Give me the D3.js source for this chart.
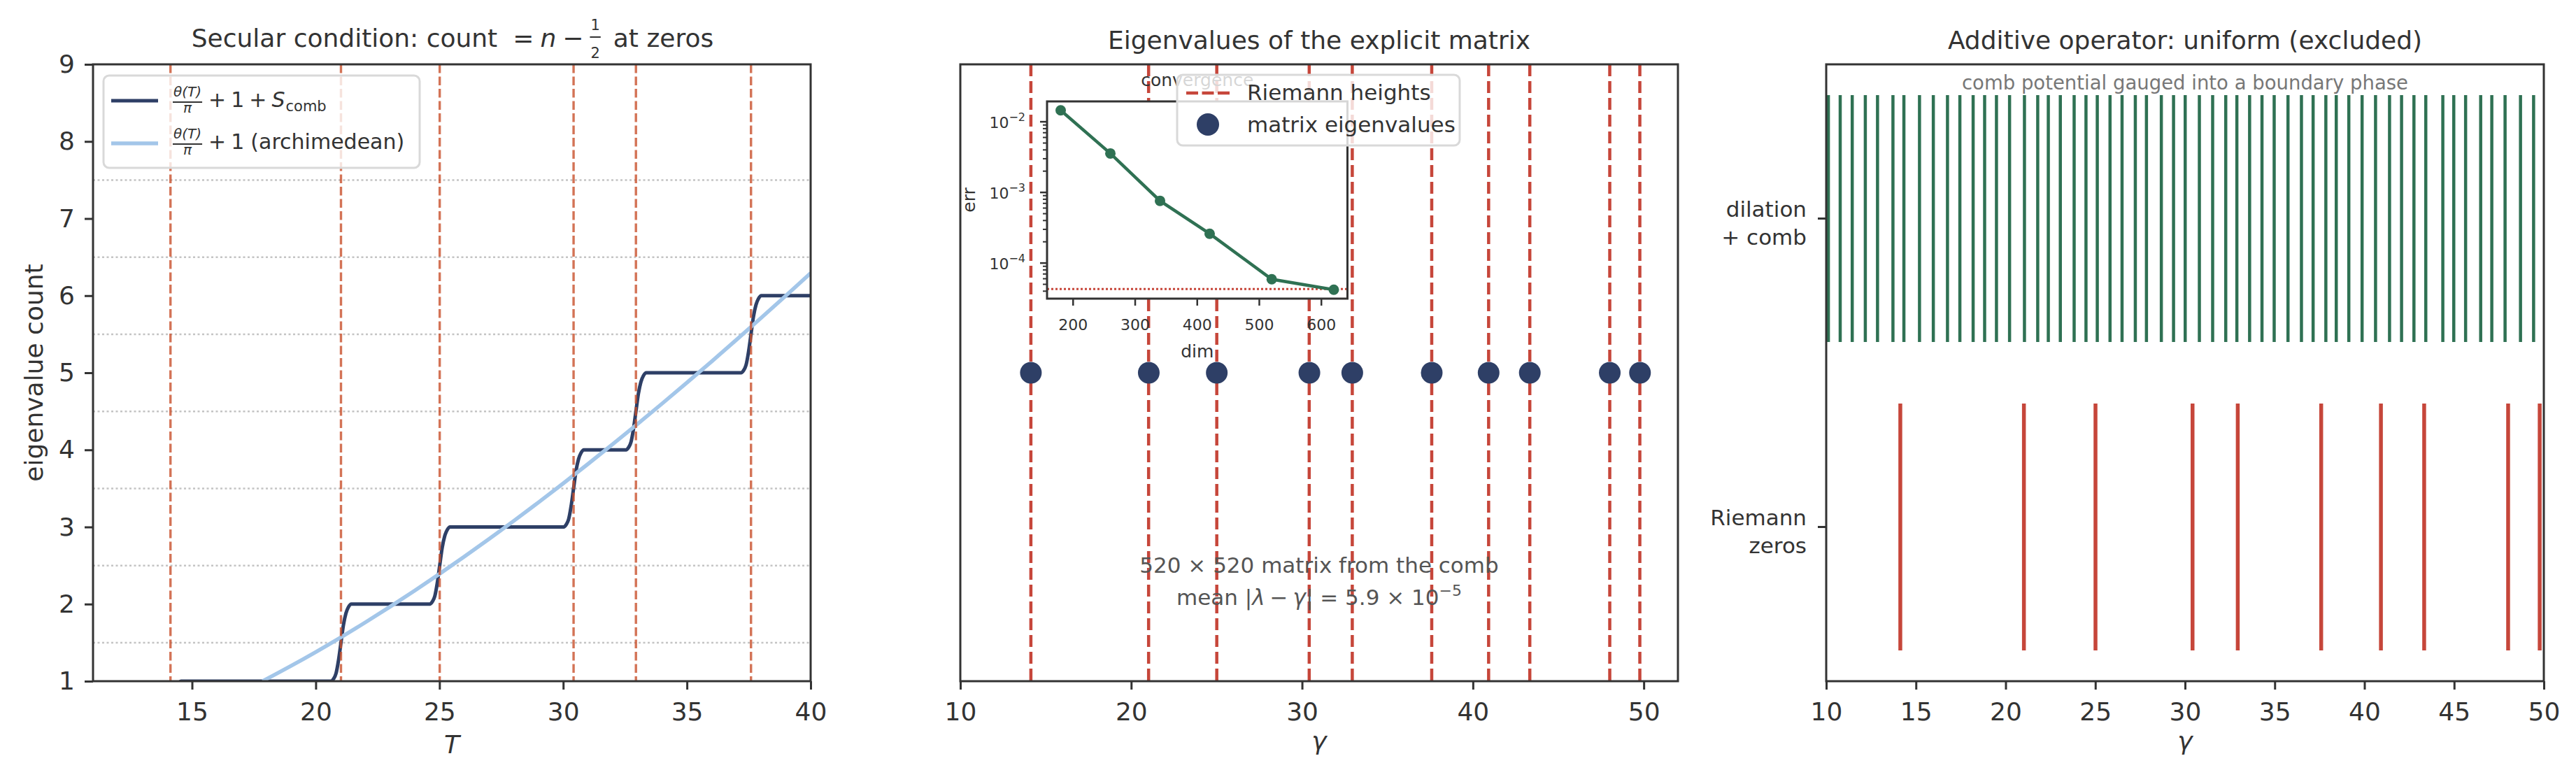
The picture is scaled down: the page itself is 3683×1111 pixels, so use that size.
<!DOCTYPE html>
<html><head><meta charset="utf-8">
<script src="https://cdn.jsdelivr.net/npm/d3@7"></script>
<style>body{margin:0;background:#fff} text{font-family:"DejaVu Sans",sans-serif}</style>
</head><body><svg id="c" width="3683" height="1111"></svg>
<script>
// ---------------- data ----------------
const riemannZeros = [14.13, 21.02, 25.01, 30.42, 32.94, 37.59, 40.92, 43.33, 48.01, 49.77];
const matrixEig = [14.13, 21.03, 25.01, 30.43, 32.94, 37.59, 40.92, 43.33, 48.01, 49.78];
const stairT = [13.73, 13.83, 13.93, 14.03, 14.13, 14.23, 14.33, 14.43, 14.55,
  20.62, 20.72, 20.82, 20.92, 21.02, 21.12, 21.22, 21.32, 21.44,
  24.61, 24.71, 24.81, 24.91, 25.01, 25.11, 25.21, 25.31, 25.43,
  30.02, 30.12, 30.22, 30.32, 30.42, 30.52, 30.62, 30.72, 30.84,
  32.54, 32.64, 32.74, 32.84, 32.94, 33.04, 33.14, 33.24, 33.36,
  37.19, 37.29, 37.39, 37.49, 37.59, 37.69, 37.79, 37.89, 38.01,
  40.0];
const stairN = [0.00, 0.03, 0.10, 0.27, 0.50, 0.73, 0.88, 0.96, 1.00,
  1.00, 1.03, 1.10, 1.27, 1.50, 1.73, 1.88, 1.96, 2.00,
  2.00, 2.03, 2.10, 2.27, 2.50, 2.73, 2.88, 2.96, 3.00,
  3.00, 3.03, 3.10, 3.27, 3.50, 3.73, 3.88, 3.96, 4.00,
  4.00, 4.03, 4.10, 4.27, 4.50, 4.73, 4.88, 4.96, 5.00,
  5.00, 5.03, 5.10, 5.27, 5.50, 5.73, 5.88, 5.96, 6.00,
  6.00];
const archT = [17.85, 18, 19, 20, 21, 22, 23, 24, 25, 26, 27, 28, 29, 30, 31, 32, 33, 34, 35, 36, 37, 38, 39, 40];
const archN = [1.001, 1.026, 1.198, 1.378, 1.566, 1.762, 1.965, 2.175, 2.391, 2.614, 2.843, 3.078, 3.319, 3.565,
  3.816, 4.073, 4.334, 4.601, 4.872, 5.147, 5.427, 5.712, 6.000, 6.293];
const halfLevels = [1.5, 2.5, 3.5, 4.5, 5.5, 6.5, 7.5];
const convDim = [180, 260, 340, 420, 520, 620];
const convErr = [0.0145, 0.00356, 0.00076, 0.00026, 0.000059, 0.000042];
const errFloor = 4.3e-5;
const combLines = [10.12, 10.78, 11.45, 12.18, 12.86, 13.72, 14.33, 15.20, 15.97, 16.76, 17.45, 18.19, 18.83,
  19.49, 20.22, 21.05, 21.79, 22.38, 23.05, 23.82, 24.48, 25.11, 25.82, 26.49, 27.23, 27.85, 28.68, 29.36,
  30.01, 30.80, 31.54, 32.27, 32.89, 33.60, 34.29, 34.97, 35.74, 36.49, 37.14, 37.85, 38.43, 39.13, 39.87,
  40.62, 41.40, 42.07, 42.76, 43.42, 44.37, 44.98, 45.64, 46.48, 47.10, 47.84, 48.70, 49.43];
const p1XTicks = [15, 20, 25, 30, 35, 40];
const p1YTicks = [1, 2, 3, 4, 5, 6, 7, 8, 9];
const p2XTicks = [10, 20, 30, 40, 50];
const p3XTicks = [10, 15, 20, 25, 30, 35, 40, 45, 50];
const p3Rows = [{v: 1, lines: ["dilation", "+ comb"]}, {v: 0, lines: ["Riemann", "zeros"]}];
const insetXTicks = [200, 300, 400, 500, 600];
const insetYTicks = [{v: 1e-2, e: "−2"}, {v: 1e-3, e: "−3"}, {v: 1e-4, e: "−4"}];

// ---------------- layout ----------------
const INK = "#333333";
const TOP = 92, BOT = 974, PW = 1026;
const L1 = 133, L2 = 1373, L3 = 2611;
const NAVY = "#2e3f66", LBLUE = "#a3c6e9", GREEN = "#2f7153", RED = "#c6463a", ORANGE = "#c8502c";
const svg = d3.select("#c");
svg.append("rect").attr("width", 3683).attr("height", 1111).attr("fill", "#fff");

function rich(parent, x, y, anchor, pieces, color) {
  color = color || INK;
  const g = parent.append("g");
  let cx = 0;
  for (const p of pieces) {
    cx += p.gap || 0;
    if (p.frac) {
      const mk = (s, yy) => g.append("text").text(s).attr("font-size", p.size)
        .attr("font-style", p.italic ? "italic" : "normal").attr("text-anchor", "middle")
        .attr("y", yy).attr("fill", color);
      const n = mk(p.frac[0], p.numY), d = mk(p.frac[1], p.denY);
      const w = Math.max(n.node().getComputedTextLength(), d.node().getComputedTextLength()) + (p.pad || 2) * 2;
      n.attr("x", cx + w / 2); d.attr("x", cx + w / 2);
      g.append("line").attr("x1", cx).attr("x2", cx + w).attr("y1", p.barY).attr("y2", p.barY)
        .attr("stroke", color).attr("stroke-width", p.bw || 2);
      cx += w;
    } else {
      const t = g.append("text").text(p.t).attr("x", cx).attr("y", p.dy || 0).attr("font-size", p.size)
        .attr("font-style", p.italic ? "italic" : "normal").attr("fill", color);
      cx += t.node().getComputedTextLength();
    }
  }
  const shift = anchor === "middle" ? -cx / 2 : anchor === "end" ? -cx : 0;
  g.attr("transform", `translate(${x + shift},${y})`);
  return g;
}
function styleAxis(g, fs) {
  g.attr("font-size", fs).attr("font-family", "DejaVu Sans").attr("color", INK);
  g.select(".domain").remove();
  g.selectAll(".tick line").attr("stroke-width", 3);
}
function frame(g, x, y, w, h) {
  g.append("rect").attr("x", x).attr("y", y).attr("width", w).attr("height", h)
    .attr("fill", "none").attr("stroke", INK).attr("stroke-width", 3);
}
function clip(id, x, y, w, h) {
  svg.append("clipPath").attr("id", id).append("rect").attr("x", x).attr("y", y).attr("width", w).attr("height", h);
}

// ================= Panel 1 =================
const x1 = d3.scaleLinear().domain([11, 40]).range([L1, L1 + PW]);
const y1 = d3.scaleLinear().domain([1, 9]).range([BOT, TOP]);
clip("clip1", L1, TOP, PW, BOT - TOP);
const p1 = svg.append("g");
const p1c = p1.append("g").attr("clip-path", "url(#clip1)");
p1c.selectAll("line.grid").data(halfLevels).join("line").attr("class", "grid")
  .attr("x1", L1).attr("x2", L1 + PW).attr("y1", d => y1(d)).attr("y2", d => y1(d))
  .attr("stroke", "#c4c4c4").attr("stroke-width", 2.5).attr("stroke-dasharray", "3,3.5");
const stairData = stairT.map((t, i) => [t, stairN[i]]);
const archData = archT.map((t, i) => [t, archN[i]]);
const ln1 = d3.line().x(d => x1(d[0])).y(d => y1(d[1])).curve(d3.curveMonotoneX);
p1c.append("path").attr("d", ln1(stairData)).attr("fill", "none").attr("stroke", NAVY).attr("stroke-width", 5);
p1c.append("path").attr("d", ln1(archData)).attr("fill", "none").attr("stroke", LBLUE).attr("stroke-width", 5.5);
p1c.selectAll("line.z").data(riemannZeros.filter(z => z <= 40)).join("line").attr("class", "z")
  .attr("x1", d => x1(d)).attr("x2", d => x1(d)).attr("y1", TOP).attr("y2", BOT)
  .attr("stroke", ORANGE).attr("stroke-opacity", 0.8).attr("stroke-width", 3.4).attr("stroke-dasharray", "12.5,5");
frame(p1, L1, TOP, PW, BOT - TOP);
styleAxis(p1.append("g").attr("transform", `translate(0,${BOT})`)
  .call(d3.axisBottom(x1).tickValues(p1XTicks).tickSize(12).tickPadding(18).tickFormat(d3.format("d"))), 36);
styleAxis(p1.append("g").attr("transform", `translate(${L1},0)`)
  .call(d3.axisLeft(y1).tickValues(p1YTicks).tickSize(12).tickPadding(14).tickFormat(d3.format("d"))), 36);
p1.append("text").text("eigenvalue count").attr("transform", "translate(61,533) rotate(-90)")
  .attr("text-anchor", "middle").attr("font-size", 36).attr("fill", INK);
p1.append("text").text("T").attr("x", L1 + PW / 2).attr("y", 1077).attr("text-anchor", "middle")
  .attr("font-size", 36).attr("font-style", "italic").attr("fill", INK);
rich(svg, 647, 67, "middle", [
  {t: "Secular condition: count", size: 36},
  {gap: 22, t: "=", size: 36},
  {gap: 9, t: "n", size: 36, italic: true},
  {gap: 9, t: "−", size: 36},
  {gap: 9, frac: ["1", "2"], size: 21, numY: -24, denY: 16, barY: -14, bw: 2, pad: 1},
  {gap: 18, t: "at zeros", size: 36}
]);
// legend 1
const lg1 = p1.append("g");
lg1.append("rect").attr("x", 148).attr("y", 108).attr("width", 452).attr("height", 132).attr("rx", 8)
  .attr("fill", "#fff").attr("fill-opacity", 0.8).attr("stroke", "#d9d9d9").attr("stroke-width", 3);
lg1.append("line").attr("x1", 159).attr("x2", 226).attr("y1", 144).attr("y2", 144).attr("stroke", NAVY).attr("stroke-width", 5);
lg1.append("line").attr("x1", 159).attr("x2", 226).attr("y1", 205).attr("y2", 205).attr("stroke", LBLUE).attr("stroke-width", 5.5);
const fracPiece = {frac: ["θ(T)", "π"], italic: true, size: 20, numY: -15, denY: 8, barY: -7, bw: 2, pad: 1};
rich(lg1, 247, 153, "start", [fracPiece,
  {gap: 9, t: "+", size: 30}, {gap: 7, t: "1", size: 30}, {gap: 7, t: "+", size: 30},
  {gap: 7, t: "S", size: 30, italic: true}, {gap: 1, t: "comb", size: 21, dy: 6}]);
rich(lg1, 247, 213, "start", [fracPiece,
  {gap: 9, t: "+", size: 30}, {gap: 7, t: "1", size: 30}, {gap: 9, t: "(archimedean)", size: 30}]);

// ================= Panel 2 =================
const x2 = d3.scaleLinear().domain([10, 52]).range([L2, L2 + PW]);
const y2 = d3.scaleLinear().domain([0, 1]).range([BOT, TOP]);
clip("clip2", L2, TOP, PW, BOT - TOP);
const p2 = svg.append("g");
const p2c = p2.append("g").attr("clip-path", "url(#clip2)");
p2c.selectAll("line.z").data(riemannZeros).join("line").attr("class", "z")
  .attr("x1", d => x2(d)).attr("x2", d => x2(d)).attr("y1", TOP).attr("y2", BOT)
  .attr("stroke", RED).attr("stroke-width", 4.5).attr("stroke-dasharray", "17,7");
p2c.selectAll("circle").data(matrixEig).join("circle")
  .attr("cx", d => x2(d)).attr("cy", y2(0.5)).attr("r", 15.5).attr("fill", NAVY);
p2.append("text").text("520 × 520 matrix from the comb").attr("x", L2 + PW / 2).attr("y", 819)
  .attr("text-anchor", "middle").attr("font-size", 31).attr("fill", "#555");
rich(p2, L2 + PW / 2, 865, "middle", [
  {t: "mean |", size: 31}, {t: "λ", size: 31, italic: true}, {gap: 7, t: "−", size: 31},
  {gap: 7, t: "γ", size: 31, italic: true}, {t: "| = 5.9 × 10", size: 31}, {t: "−5", size: 22, dy: -13}
], "#555");
frame(p2, L2, TOP, PW, BOT - TOP);
styleAxis(p2.append("g").attr("transform", `translate(0,${BOT})`)
  .call(d3.axisBottom(x2).tickValues(p2XTicks).tickSize(12).tickPadding(18).tickFormat(d3.format("d"))), 36);
p2.append("text").text("γ").attr("x", L2 + PW / 2).attr("y", 1072).attr("text-anchor", "middle")
  .attr("font-size", 36).attr("font-style", "italic").attr("fill", INK);
svg.append("text").text("Eigenvalues of the explicit matrix").attr("x", L2 + PW / 2).attr("y", 70)
  .attr("text-anchor", "middle").attr("font-size", 36).attr("fill", INK);

// inset
const IL = 1497, IR = 1926.5, IT = 145, IB = 427;
const logE = convErr.map(Math.log10);
const lMin = d3.min(logE), lMax = d3.max(logE), lPad = (lMax - lMin) * 0.05;
const xi = d3.scaleLinear().domain([158, 642]).range([IL, IR]);
const yi = d3.scaleLog().domain([Math.pow(10, lMin - lPad), Math.pow(10, lMax + lPad)]).range([IB, IT]);
const ins = p2.append("g");
ins.append("rect").attr("x", IL).attr("y", IT).attr("width", IR - IL).attr("height", IB - IT).attr("fill", "#fff");
clip("clipI", IL, IT, IR - IL, IB - IT);
const insc = ins.append("g").attr("clip-path", "url(#clipI)");
insc.append("line").attr("x1", IL).attr("x2", IR).attr("y1", yi(errFloor)).attr("y2", yi(errFloor))
  .attr("stroke", RED).attr("stroke-width", 3).attr("stroke-dasharray", "3,3");
const convData = convDim.map((d, i) => [d, convErr[i]]);
insc.append("path").attr("d", d3.line().x(d => xi(d[0])).y(d => yi(d[1]))(convData))
  .attr("fill", "none").attr("stroke", GREEN).attr("stroke-width", 4.5);
insc.selectAll("circle").data(convData).join("circle").attr("cx", d => xi(d[0])).attr("cy", d => yi(d[1]))
  .attr("r", 7.5).attr("fill", GREEN);
frame(ins, IL, IT, IR - IL, IB - IT);
ins.selectAll("line.xt").data(insetXTicks).join("line").attr("class", "xt")
  .attr("x1", d => xi(d)).attr("x2", d => xi(d)).attr("y1", IB).attr("y2", IB + 10)
  .attr("stroke", INK).attr("stroke-width", 2.5);
ins.selectAll("text.xt").data(insetXTicks).join("text").attr("class", "xt").text(d => d)
  .attr("x", d => xi(d)).attr("y", 472).attr("text-anchor", "middle").attr("font-size", 22).attr("fill", INK);
const [yd0, yd1] = yi.domain();
const minor = [];
for (let e = -6; e <= -1; e++) for (let k = 2; k <= 9; k++) { const v = k * Math.pow(10, e); if (v >= yd0 && v <= yd1) minor.push(v); }
ins.selectAll("line.ym").data(minor).join("line").attr("class", "ym")
  .attr("x1", IL - 6).attr("x2", IL).attr("y1", d => yi(d)).attr("y2", d => yi(d)).attr("stroke", INK).attr("stroke-width", 2);
insetYTicks.forEach(t => {
  ins.append("line").attr("x1", IL - 10).attr("x2", IL).attr("y1", yi(t.v)).attr("y2", yi(t.v)).attr("stroke", INK).attr("stroke-width", 2.5);
  rich(ins, IL - 32, yi(t.v) + 9, "start", []);
  rich(ins, IL - 31, yi(t.v) + 9, "end", [{t: "10", size: 22}, {t: t.e, size: 16, dy: -10}]);
});
ins.append("text").text("err").attr("transform", `translate(1394,${(IT + IB) / 2}) rotate(-90)`)
  .attr("text-anchor", "middle").attr("font-size", 25).attr("fill", INK);
ins.append("text").text("dim").attr("x", (IL + IR) / 2).attr("y", 511).attr("text-anchor", "middle")
  .attr("font-size", 25).attr("fill", INK);
ins.append("text").text("convergence").attr("x", (IL + IR) / 2).attr("y", 123).attr("text-anchor", "middle")
  .attr("font-size", 25).attr("fill", INK);
// legend 2
const lg2 = p2.append("g");
lg2.append("rect").attr("x", 1683).attr("y", 107).attr("width", 404).attr("height", 101).attr("rx", 8)
  .attr("fill", "#fff").attr("fill-opacity", 0.8).attr("stroke", "#d9d9d9").attr("stroke-width", 3);
lg2.append("line").attr("x1", 1696).attr("x2", 1758).attr("y1", 133).attr("y2", 133)
  .attr("stroke", RED).attr("stroke-width", 4.5).attr("stroke-dasharray", "17,5.5");
lg2.append("circle").attr("cx", 1727).attr("cy", 178).attr("r", 16).attr("fill", NAVY);
lg2.append("text").text("Riemann heights").attr("x", 1783).attr("y", 143).attr("font-size", 31).attr("fill", INK);
lg2.append("text").text("matrix eigenvalues").attr("x", 1783).attr("y", 189).attr("font-size", 31).attr("fill", INK);

// ================= Panel 3 =================
const x3 = d3.scaleLinear().domain([10, 50]).range([L3, L3 + PW]);
const y3 = d3.scaleLinear().domain([-0.5, 1.5]).range([BOT, TOP]);
clip("clip3", L3, TOP, PW, BOT - TOP);
const p3 = svg.append("g");
const p3c = p3.append("g").attr("clip-path", "url(#clip3)");
p3c.selectAll("line.comb").data(combLines).join("line").attr("class", "comb")
  .attr("x1", d => x3(d)).attr("x2", d => x3(d)).attr("y1", y3(1.4)).attr("y2", y3(0.6))
  .attr("stroke", GREEN).attr("stroke-width", 4.5);
p3c.selectAll("line.rz").data(riemannZeros).join("line").attr("class", "rz")
  .attr("x1", d => x3(d)).attr("x2", d => x3(d)).attr("y1", y3(0.4)).attr("y2", y3(-0.4))
  .attr("stroke", RED).attr("stroke-width", 5.5);
p3.append("text").text("comb potential gauged into a boundary phase").attr("x", L3 + PW / 2).attr("y", 128)
  .attr("text-anchor", "middle").attr("font-size", 27.5).attr("fill", "#777");
frame(p3, L3, TOP, PW, BOT - TOP);
styleAxis(p3.append("g").attr("transform", `translate(0,${BOT})`)
  .call(d3.axisBottom(x3).tickValues(p3XTicks).tickSize(12).tickPadding(18).tickFormat(d3.format("d"))), 36);
p3Rows.forEach(r => {
  p3.append("line").attr("x1", L3 - 12).attr("x2", L3).attr("y1", y3(r.v)).attr("y2", y3(r.v)).attr("stroke", INK).attr("stroke-width", 3);
  r.lines.forEach((s, i) => p3.append("text").text(s).attr("x", 2583).attr("y", y3(r.v) - 3 + i * 40)
    .attr("text-anchor", "end").attr("font-size", 31).attr("fill", INK));
});
p3.append("text").text("γ").attr("x", L3 + PW / 2).attr("y", 1072).attr("text-anchor", "middle")
  .attr("font-size", 36).attr("font-style", "italic").attr("fill", INK);
svg.append("text").text("Additive operator: uniform (excluded)").attr("x", L3 + PW / 2).attr("y", 70)
  .attr("text-anchor", "middle").attr("font-size", 36).attr("fill", INK);
</script></body></html>
